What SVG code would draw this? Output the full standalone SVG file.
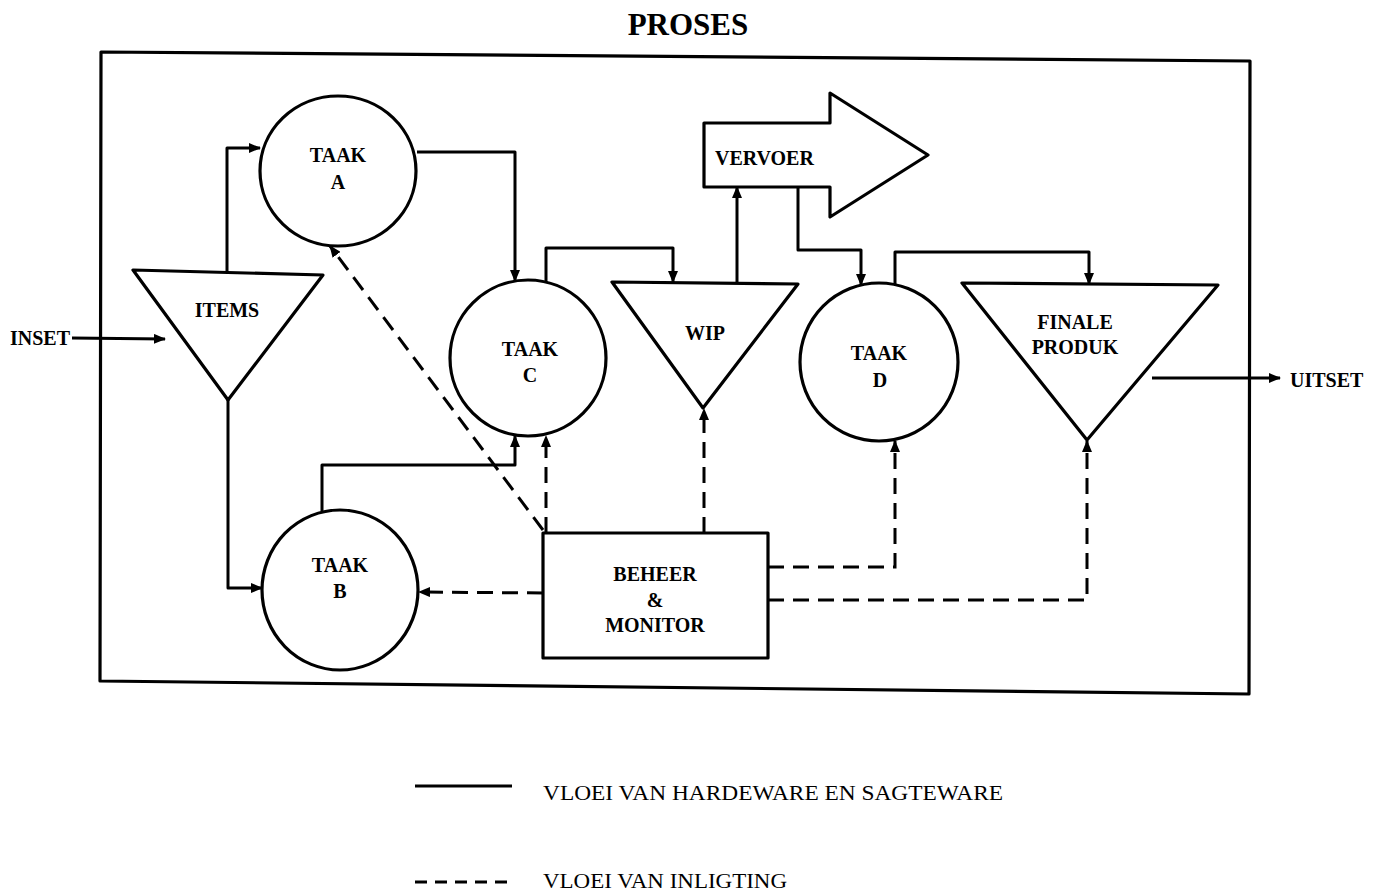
<svg xmlns="http://www.w3.org/2000/svg" width="1379" height="894" viewBox="0 0 1379 894">
<defs>
<marker id="ah" markerUnits="userSpaceOnUse" markerWidth="12" markerHeight="10" viewBox="0 0 12 10" refX="11" refY="5" orient="auto">
<path d="M0,0 L12,5 L0,10 z" fill="#000"/>
</marker>
</defs>
<style>
.shape{fill:none;stroke:#000;stroke-width:3.2;stroke-linejoin:round}
.solid{fill:none;stroke:#000;stroke-width:3;stroke-linejoin:round}
.dash{fill:none;stroke:#000;stroke-width:3;stroke-dasharray:16 9}
.lbl{font-family:"Liberation Serif","Times New Roman",serif;font-weight:bold;font-size:20px;text-anchor:middle;fill:#000}
.side{font-family:"Liberation Serif","Times New Roman",serif;font-weight:bold;font-size:20px;fill:#000}
.leg{font-family:"Liberation Serif","Times New Roman",serif;font-size:22px;fill:#000}
.title{font-family:"Liberation Serif","Times New Roman",serif;font-weight:bold;font-size:31px;text-anchor:middle;fill:#000}
</style>
<rect width="1379" height="894" fill="#fff"/>
<text class="title" x="688" y="35">PROSES</text>
<polygon id="frame" class="shape" points="101,52 1250,61 1249,694 100,681"/>

<g id="connectors">
<!-- solid flows -->
<path class="solid" d="M72,338 L165,339" marker-end="url(#ah)"/>
<path class="solid" d="M227,273 L227,148 L260,148" marker-end="url(#ah)"/>
<path class="solid" d="M228,400 L228,588 L262,588" marker-end="url(#ah)"/>
<path class="solid" d="M417,152 L515,152 L515,281" marker-end="url(#ah)"/>
<path class="solid" d="M322,511 L322,465 L515,465 L515,436" marker-end="url(#ah)"/>
<path class="solid" d="M546,283 L546,248 L673,248 L673,282" marker-end="url(#ah)"/>
<path class="solid" d="M737,283 L737,187" marker-end="url(#ah)"/>
<path class="solid" d="M798,187 L798,250 L861,250 L861,285" marker-end="url(#ah)"/>
<path class="solid" d="M895,285 L895,252 L1089,252 L1089,284" marker-end="url(#ah)"/>
<path class="solid" d="M1152,378 L1280,378" marker-end="url(#ah)"/>
<!-- dashed information flows -->
<path class="dash" d="M543,530 L330,246" marker-end="url(#ah)"/>
<path class="dash" d="M546,533 L546,436" marker-end="url(#ah)"/>
<path class="dash" d="M704,533 L704,409" marker-end="url(#ah)"/>
<path class="dash" d="M768,567 L895,567 L895,441" marker-end="url(#ah)"/>
<path class="dash" d="M768,600 L1087,600 L1087,441" marker-end="url(#ah)"/>
<path class="dash" d="M543,593 L419,592" marker-end="url(#ah)"/>
</g>

<g id="items">
<polygon class="shape" points="133,270 323,275 228,400"/>
<text class="lbl" x="227" y="317">ITEMS</text>
</g>
<text id="inset" class="side" x="10" y="345">INSET</text>

<g id="taakA">
<ellipse class="shape" cx="338" cy="171" rx="78" ry="75"/>
<text class="lbl" x="338" y="162">TAAK</text>
<text class="lbl" x="338" y="189">A</text>
</g>

<g id="taakB">
<ellipse class="shape" cx="340" cy="590" rx="78" ry="80"/>
<text class="lbl" x="340" y="572">TAAK</text>
<text class="lbl" x="340" y="598">B</text>
</g>

<g id="taakC">
<ellipse class="shape" cx="528" cy="358" rx="78" ry="78"/>
<text class="lbl" x="530" y="356">TAAK</text>
<text class="lbl" x="530" y="382">C</text>
</g>

<g id="wip">
<polygon class="shape" points="612,282 798,284 703,408"/>
<text class="lbl" x="705" y="340">WIP</text>
</g>

<g id="vervoer">
<polygon class="shape" points="704,123 830,123 830,93 928,155 830,217 830,187 704,187"/>
<text class="side" x="715" y="165">VERVOER</text>
</g>

<g id="taakD">
<ellipse class="shape" cx="879" cy="362" rx="79" ry="79"/>
<text class="lbl" x="879" y="360">TAAK</text>
<text class="lbl" x="880" y="387">D</text>
</g>

<g id="finale">
<polygon class="shape" points="962,283 1218,285 1087,440"/>
<text class="lbl" x="1075" y="329">FINALE</text>
<text class="lbl" x="1075" y="354">PRODUK</text>
</g>
<text id="uitset" class="side" x="1290" y="387">UITSET</text>

<g id="beheer">
<rect class="shape" x="543" y="533" width="225" height="125"/>
<text class="lbl" x="655" y="581">BEHEER</text>
<text class="lbl" x="655" y="607">&amp;</text>
<text class="lbl" x="655" y="632">MONITOR</text>
</g>

<g id="legend">
<line class="solid" x1="415" y1="786" x2="512" y2="786"/>
<text class="leg" x="543" y="800" textLength="460" lengthAdjust="spacingAndGlyphs">VLOEI VAN HARDEWARE EN SAGTEWARE</text>
<line class="dash" x1="415" y1="882" x2="512" y2="882" style="stroke-dasharray:12 8"/>
<text class="leg" x="543" y="888" font-size="21" textLength="244" lengthAdjust="spacingAndGlyphs">VLOEI VAN INLIGTING</text>
</g>
</svg>
